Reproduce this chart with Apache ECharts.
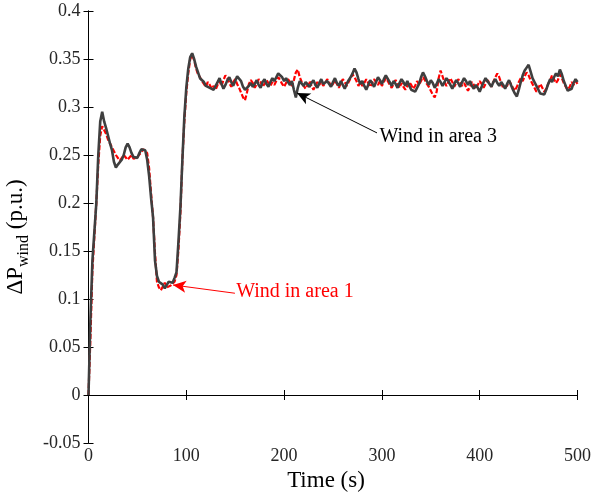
<!DOCTYPE html>
<html>
<head>
<meta charset="utf-8">
<script src="https://cdn.jsdelivr.net/npm/echarts@6/dist/echarts.min.js"></script>
<style>html,body{margin:0;padding:0;background:#fff;}#c{width:594px;height:496px;}</style>
</head>
<body>
<div id="c"></div>
<script>
// sampling step of both traces (s)
const timeStep = 2;
// Wind in area 3 (black), t = 0..500 s every 2 s
const windArea3 = [
0,0.08,0.14,0.17,0.20,0.25,0.285,0.295,0.285,0.278,
0.27,0.262,0.255,0.243,0.237,0.24,0.24,0.245,0.25,0.258,
0.262,0.258,0.252,0.248,0.25,0.247,0.252,0.256,0.258,0.255,
0.245,0.228,0.205,0.185,0.14,0.124,0.118,0.117,0.115,0.111,
0.113,0.118,0.12,0.117,0.122,0.128,0.16,0.196,0.245,0.29,
0.32,0.34,0.352,0.356,0.35,0.342,0.336,0.33,0.329,0.326,
0.322,0.324,0.32,0.322,0.318,
0.322,0.326,0.33,0.324,0.319,0.323,0.328,0.331,0.326,0.322,
0.327,0.332,0.333,0.327,0.321,0.318,0.317,0.322,0.325,0.321,
0.324,0.328,0.323,0.32,0.326,0.329,0.324,0.321,0.326,0.33,
0.327,0.331,0.335,0.336,0.331,0.327,0.33,0.326,0.323,0.327,
0.318,0.31,0.32,0.327,0.325,0.322,0.326,0.324,0.321,0.325,
0.328,0.323,0.32,0.325,0.329,0.324,0.322,0.327,0.325,0.321,
0.326,0.33,0.325,0.322,0.327,0.323,0.319,0.324,0.328,0.331,
0.335,0.34,0.336,0.329,0.324,0.327,0.322,0.318,0.323,0.328,
0.325,0.321,0.326,0.331,0.328,0.324,0.329,0.333,0.331,0.326,
0.322,0.327,0.324,0.32,0.325,0.329,0.326,0.322,0.327,0.322,
0.318,0.32,0.316,0.315,0.324,0.331,0.336,0.332,0.327,0.323,
0.328,0.325,0.32,0.324,0.329,0.326,0.322,0.326,0.33,0.327,
0.323,0.319,0.324,0.328,0.325,0.321,0.326,0.33,0.327,0.323,
0.327,0.322,0.319,0.323,0.32,0.316,0.321,0.326,0.33,0.328,
0.324,0.321,0.326,0.329,0.325,0.322,0.326,0.323,0.319,0.324,
0.328,0.323,0.318,0.314,0.311,0.318,0.326,0.333,0.338,0.341,
0.344,0.337,0.33,0.326,0.322,0.318,0.314,0.312,0.313,0.318,
0.324,0.329,0.326,0.331,0.335,0.332,0.339,0.334,0.327,0.322,
0.317,0.315,0.319,0.325,0.329,0.326
];
// Wind in area 1 (red), t = 0..500 s every 2 s
const windArea1 = [
0,0.06,0.13,0.165,0.2,0.24,0.27,0.28,0.276,0.272,
0.266,0.262,0.258,0.254,0.25,0.247,0.244,0.246,0.25,0.248,
0.245,0.247,0.25,0.246,0.244,0.248,0.25,0.253,0.256,0.258,
0.252,0.236,0.21,0.185,0.148,0.118,0.112,0.109,0.113,0.117,
0.112,0.11,0.114,0.116,0.118,0.125,0.152,0.19,0.245,0.285,
0.315,0.335,0.35,0.354,0.349,0.34,0.334,0.331,0.327,0.324,
0.321,0.326,0.323,0.319,0.322,
0.318,0.323,0.327,0.322,0.328,0.333,0.33,0.325,0.321,0.326,
0.329,0.324,0.32,0.315,0.31,0.307,0.315,0.324,0.328,0.325,
0.32,0.324,0.329,0.326,0.321,0.324,0.328,0.325,0.322,0.326,
0.323,0.327,0.331,0.328,0.324,0.321,0.325,0.329,0.326,0.322,
0.328,0.336,0.339,0.331,0.326,0.322,0.319,0.323,0.327,0.322,
0.318,0.322,0.326,0.323,0.327,0.322,0.325,0.329,0.326,0.321,
0.324,0.328,0.324,0.32,0.325,0.329,0.326,0.322,0.326,0.33,
0.334,0.331,0.327,0.322,0.326,0.322,0.325,0.329,0.325,0.321,
0.325,0.329,0.326,0.323,0.327,0.322,0.326,0.33,0.327,0.323,
0.32,0.324,0.328,0.324,0.32,0.325,0.321,0.318,0.322,0.326,
0.323,0.319,0.322,0.327,0.323,0.327,0.331,0.328,0.324,0.321,
0.317,0.313,0.31,0.316,0.33,0.338,0.332,0.326,0.322,0.326,
0.33,0.326,0.321,0.325,0.329,0.326,0.322,0.325,0.321,0.317,
0.321,0.326,0.323,0.319,0.323,0.327,0.324,0.32,0.324,0.328,
0.325,0.321,0.326,0.331,0.335,0.331,0.325,0.32,0.318,0.322,
0.327,0.324,0.32,0.317,0.321,0.326,0.33,0.327,0.332,0.336,
0.333,0.328,0.324,0.32,0.316,0.32,0.324,0.32,0.316,0.319,
0.324,0.328,0.333,0.329,0.325,0.328,0.334,0.33,0.325,0.321,
0.318,0.321,0.326,0.323,0.327,0.324
];
// axis ranges / ticks
const xRange = [0, 500, 100];
const yRange = [-0.05, 0.4, 0.05];
// annotations: [label, textAnchor(t,v), arrowStart(t,v), arrowTip(t,v)]
const note1 = ['Wind in area 1', [151, 0.1073], [149.7, 0.106], [86.4, 0.1146]];
const note3 = ['Wind in area 3', [297.5, 0.269], [295, 0.273], [213.2, 0.3146]];

const toPairs = arr => arr.map((v, i) => [i * timeStep, v]);
const font = 'Liberation Serif, Times New Roman, serif';

const chart = echarts.init(document.getElementById('c'));
const axBase = {
  type: 'value',
  axisLine: { show: true, lineStyle: { color: '#000', width: 1 } },
  axisTick: { show: true, inside: true, length: 5, lineStyle: { color: '#000', width: 1 } },
  splitLine: { show: false },
  axisLabel: { color: '#262626', fontFamily: font, fontSize: 18 }
};
function mkX(pos, labels) {
  return Object.assign({}, axBase, {
    position: pos, min: xRange[0], max: xRange[1], interval: xRange[2],
    axisLabel: Object.assign({}, axBase.axisLabel, { show: labels, margin: 4 }),
  });
}
function mkY(pos, labels) {
  return Object.assign({}, axBase, {
    position: pos, min: yRange[0], max: yRange[1], interval: yRange[2],
    axisLabel: Object.assign({}, axBase.axisLabel, { show: labels, margin: 8 }),
  });
}
const xMain = mkX('bottom', true);
xMain.name = 'Time (s)';
xMain.nameLocation = 'middle';
xMain.nameGap = 25;
xMain.nameTextStyle = { fontFamily: font, fontSize: 23, color: '#000', padding: [0, 14, 0, 0] };
const yMain = mkY('left', true);
yMain.name = '{m|ΔP}{s|wind}{m| (p.u.)}';
yMain.nameLocation = 'middle';
yMain.nameGap = 42;
yMain.nameTextStyle = {
  padding: [0, 20, 0, 0],
  rich: {
    m: { fontFamily: font, fontSize: 23, color: '#000', lineHeight: 26, verticalAlign: 'top' },
    s: { fontFamily: font, fontSize: 16, color: '#000', lineHeight: 40, verticalAlign: 'middle' }
  }
};

function arrow(n, color) {
  return {
    symbol: ['none', 'arrow'], symbolSize: [9, 13], silent: true, animation: false,
    label: { show: false },
    lineStyle: { color: color, width: 1, type: 'solid' },
    emphasis: { disabled: true },
    data: [[{ coord: n[2] }, { coord: n[3] }]]
  };
}
function note(n, color) {
  return {
    silent: true, animation: false,
    symbol: 'circle', symbolSize: 0.01,
    label: { show: true, position: 'right', distance: 0, formatter: n[0], color: color, fontFamily: font, fontSize: 20 },
    data: [{ coord: n[1] }]
  };
}

chart.setOption({
  animation: false,
  backgroundColor: '#fff',
  grid: { left: 88.5, right: 16.5, top: 11, bottom: 53, containLabel: false, outerBoundsMode: 'none' },
  xAxis: [xMain, mkX('top', false)],
  yAxis: [yMain, mkY('right', false)],
  series: [
    {
      type: 'line', name: 'Wind in area 1', data: toPairs(windArea1),
      showSymbol: false, symbol: 'none', z: 2,
      lineStyle: { color: '#ff0000', width: 2.2, type: [5, 2] },
      markLine: arrow(note1, '#ff0000'), markPoint: note(note1, '#ff0000')
    },
    {
      type: 'line', name: 'Wind in area 3', data: toPairs(windArea3),
      showSymbol: false, symbol: 'none', z: 3,
      lineStyle: { color: '#3f3f3f', width: 2.6 },
      markLine: arrow(note3, '#000'), markPoint: note(note3, '#000')
    }
  ]
});
</script>
</body>
</html>
